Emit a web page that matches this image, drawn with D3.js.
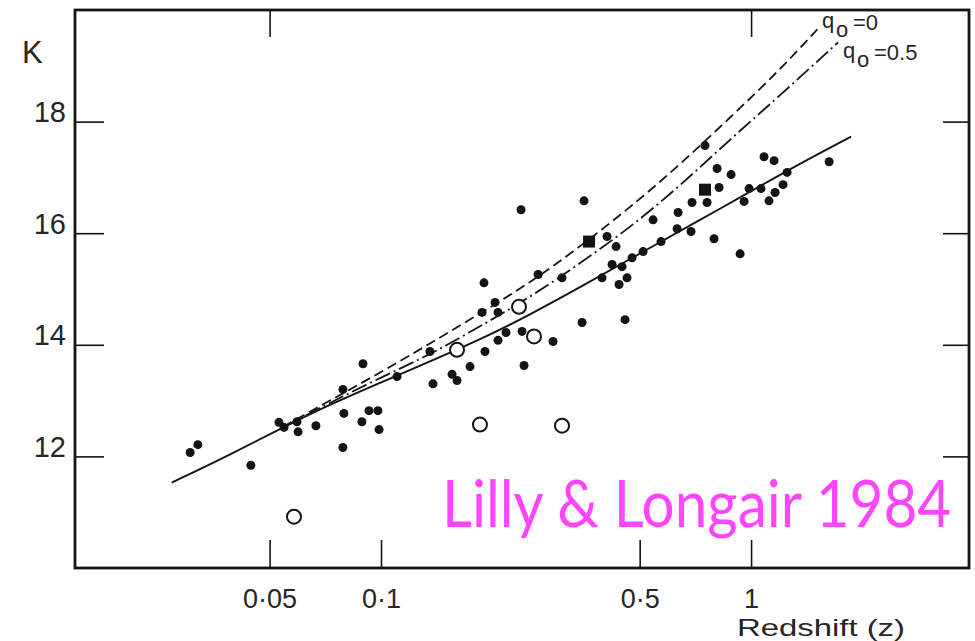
<!DOCTYPE html>
<html>
<head>
<meta charset="utf-8">
<script src="https://cdn.jsdelivr.net/npm/d3@7"></script>
<style>
  html, body { margin: 0; padding: 0; background: #fff; }
  svg { display: block; }
</style>
</head>
<body>
<svg id="chart" width="975" height="641"></svg>
<script>
// Radio galaxies: K magnitude against redshift (log scale)
const filledZ = [0.0305, 0.0320, 0.0445, 0.0530, 0.0547, 0.0593, 0.0597, 0.0667, 0.0789, 0.0794,
                 0.0789, 0.0894, 0.0888, 0.0928, 0.0981, 0.0988, 0.1105, 0.1382, 0.1356, 0.1556,
                 0.1605, 0.1740, 0.1910, 0.1875, 0.1898, 0.2033, 0.2071, 0.2071, 0.2177, 0.2405,
                 0.2435, 0.2390, 0.3537, 0.5435, 0.635, 0.4081, 0.4317, 0.631, 0.5712, 0.5107,
                 0.4769, 0.4211, 0.4481, 0.4622, 0.4398, 0.3956, 0.3084, 0.2657, 0.3494, 0.4565,
                 0.2917, 0.7508, 1.084, 1.154, 1.625, 0.8094, 0.883, 0.8195, 0.9876, 1.064,
                 1.251, 1.220, 1.161, 1.118, 0.6925, 0.7605, 0.9574, 0.6882, 0.7943, 0.9339];
const filledK = [12.07, 12.21, 11.84, 12.61, 12.52, 12.62, 12.44, 12.55, 13.20, 12.77,
                 12.16, 13.66, 12.62, 12.82, 12.82, 12.48, 13.43, 13.30, 13.88, 13.47,
                 13.36, 13.61, 13.88, 14.58, 15.11, 14.76, 14.58, 14.08, 14.22, 14.24,
                 13.63, 16.42, 16.58, 16.24, 16.37, 15.94, 15.76, 16.08, 15.85, 15.67,
                 15.56, 15.44, 15.40, 15.20, 15.08, 15.20, 15.20, 15.26, 14.40, 14.45,
                 14.06, 17.57, 17.37, 17.30, 17.28, 17.16, 17.05, 16.82, 16.80, 16.80,
                 17.09, 16.87, 16.73, 16.58, 16.55, 16.55, 16.57, 16.03, 15.90, 15.63];

const squareZ = [0.3649, 0.7508];
const squareK = [15.85, 16.78];

const openZ = [0.0582, 0.1605, 0.2360, 0.2591, 0.1851, 0.3084];
const openK = [10.92, 13.91, 14.68, 14.15, 12.57, 12.55];

// Mean relation through the points
const fitZ = [0.0272, 0.0391, 0.0543, 0.0728, 0.0994, 0.1356, 0.1851, 0.2527, 0.345, 0.511, 0.728, 0.951, 1.356, 1.863];
const fitK = [11.53, 12.03, 12.52, 12.93, 13.32, 13.70, 14.09, 14.54, 15.03, 15.67, 16.24, 16.67, 17.25, 17.73];

// Non-evolving model, q0 = 0
const q0Z = [0.0543, 0.0728, 0.0994, 0.1356, 0.1851, 0.2527, 0.345, 0.471, 0.643, 0.877, 1.198, 1.518];
const q0K = [12.53, 13.00, 13.50, 14.02, 14.56, 15.11, 15.76, 16.46, 17.23, 18.07, 18.93, 19.67];

// Non-evolving model, q0 = 0.5
const q05Z = [0.0543, 0.0728, 0.0994, 0.1356, 0.1851, 0.2527, 0.345, 0.471, 0.643, 0.877, 1.198, 1.719];
const q05K = [12.52, 12.96, 13.41, 13.82, 14.33, 14.85, 15.46, 16.10, 16.85, 17.68, 18.47, 19.42];

const xTicks = [0.05, 0.1, 0.5, 1];
const xTickLabels = ["0·05", "0·1", "0·5", "1"];
const xTopTicks = [0.05, 1];
const yTicks = [12, 14, 16, 18];

const ink = "#141414";
const textInk = "#262626";
const svg = d3.select("#chart");

const x = d3.scaleLog().domain([0.0149, 3.88]).range([75, 969]);
const y = d3.scaleLinear().domain([10, 20]).range([568, 10]);

const numFont = "'Liberation Sans', Arial, sans-serif";

// Axes (ticks point inward)
const gBottom = svg.append("g").attr("transform", "translate(0,568)")
  .call(d3.axisBottom(x).tickValues(xTicks).tickFormat((d, i) => xTickLabels[i]).tickSize(-28));
gBottom.selectAll("text").attr("y", 40).attr("dy", null)
  .attr("font-size", 27).attr("font-family", numFont).attr("fill", textInk);

const gTop = svg.append("g").attr("transform", "translate(0,10)")
  .call(d3.axisTop(x).tickValues(xTopTicks).tickFormat("").tickSize(-27));

const gLeft = svg.append("g").attr("transform", "translate(75,0)")
  .call(d3.axisLeft(y).tickValues(yTicks).tickSize(-29));
gLeft.selectAll("text").attr("x", -9).attr("dy", null)
  .attr("font-size", 29).attr("font-family", numFont).attr("fill", textInk);

const gRight = svg.append("g").attr("transform", "translate(969,0)")
  .call(d3.axisRight(y).tickValues(yTicks).tickFormat("").tickSize(-26));

[gBottom, gTop, gLeft, gRight].forEach(g => {
  g.select(".domain").remove();
  g.selectAll(".tick line").attr("stroke", ink).attr("stroke-width", 1.6);
});

// Frame
svg.append("rect")
  .attr("x", x.range()[0]).attr("y", y.range()[1])
  .attr("width", x.range()[1] - x.range()[0])
  .attr("height", y.range()[0] - y.range()[1])
  .attr("fill", "none").attr("stroke", ink).attr("stroke-width", 2.8);

// Axis titles
svg.append("text").attr("x", 22).attr("y", 63).text("K")
  .attr("font-size", 31).attr("font-family", numFont).attr("fill", textInk);
svg.append("text").attr("x", 737).attr("y", 636).text("Redshift  (z)")
  .attr("font-size", 24).attr("font-family", numFont).attr("fill", textInk)
  .attr("textLength", 168).attr("lengthAdjust", "spacingAndGlyphs");

// Curves
const line = d3.line().x(d => x(d[0])).y(d => y(d[1])).curve(d3.curveBasis);
const pairs = (zs, ks) => zs.map((z, i) => [z, ks[i]]);

svg.append("path").datum(pairs(q0Z, q0K)).attr("d", line)
  .attr("fill", "none").attr("stroke", ink).attr("stroke-width", 1.8)
  .attr("stroke-dasharray", "10,5");
svg.append("path").datum(pairs(q05Z, q05K)).attr("d", line)
  .attr("fill", "none").attr("stroke", ink).attr("stroke-width", 1.8)
  .attr("stroke-dasharray", "16,4,2,4");
svg.append("path").datum(pairs(fitZ, fitK)).attr("d", line)
  .attr("fill", "none").attr("stroke", ink).attr("stroke-width", 1.9);

// Curve labels: q with a lowered "o" subscript
function qLabel(px, py, rest) {
  const g = svg.append("g").attr("font-family", numFont).attr("fill", textInk).attr("font-size", 22);
  g.append("text").attr("x", px).attr("y", py).text("q");
  g.append("text").attr("x", px + 14).attr("y", py + 9).text("o");
  g.append("text").attr("x", px + 31).attr("y", py + 2).text(rest);
}
qLabel(822, 28, "=0");
qLabel(843, 58, "=0.5");

// Points
svg.append("g").selectAll("circle").data(pairs(filledZ, filledK)).join("circle")
  .attr("cx", d => x(d[0])).attr("cy", d => y(d[1])).attr("r", 4.5).attr("fill", ink);

svg.append("g").selectAll("rect").data(pairs(squareZ, squareK)).join("rect")
  .attr("x", d => x(d[0]) - 6).attr("y", d => y(d[1]) - 6)
  .attr("width", 12).attr("height", 12).attr("fill", ink);

svg.append("g").selectAll("circle").data(pairs(openZ, openK)).join("circle")
  .attr("cx", d => x(d[0])).attr("cy", d => y(d[1])).attr("r", 7)
  .attr("fill", "#fff").attr("stroke", ink).attr("stroke-width", 2);

// Attribution, horizontally condensed to a humanist-sans width
svg.append("text").attr("transform", "translate(442,527) scale(0.885,1)")
  .text("Lilly & Longair 1984")
  .attr("font-family", "Lato, 'Open Sans', sans-serif").attr("font-size", 66)
  .attr("fill", "#ff45ff");
</script>
</body>
</html>
